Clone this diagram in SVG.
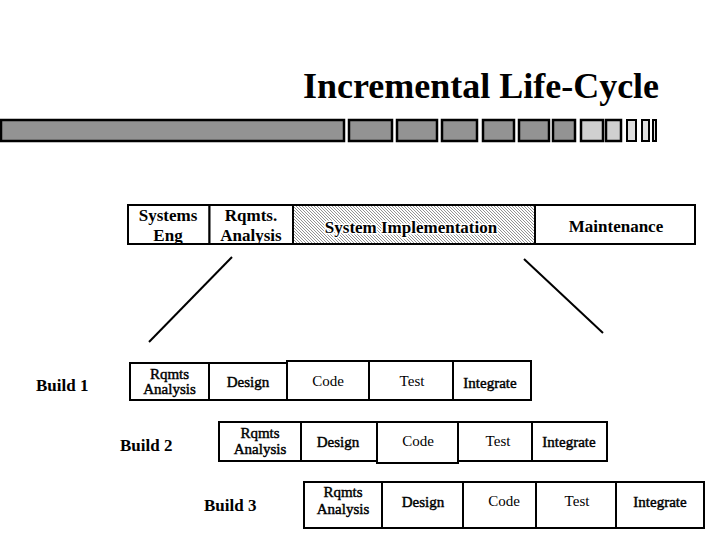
<svg xmlns="http://www.w3.org/2000/svg" width="720" height="540" viewBox="0 0 720 540">
<style>
.title{font-family:"Liberation Serif",serif;font-weight:bold;font-size:36px;fill:#000}
.hd{font-family:"Liberation Serif",serif;font-weight:bold;font-size:17px;fill:#000;text-anchor:middle}
.bl{font-family:"Liberation Serif",serif;font-weight:bold;font-size:17px;fill:#000}
.cb{font-family:"Liberation Serif",serif;font-size:15px;fill:#000;stroke:#000;stroke-width:0.45;text-anchor:middle}
.cr{font-family:"Liberation Serif",serif;font-size:15px;fill:#000;text-anchor:middle}
.cell{fill:#fff;stroke:#000;stroke-width:2}
.bar{fill:#939393;stroke:#000;stroke-width:2.5}
.barl{fill:#d0d0d0;stroke:#000;stroke-width:2.5}
.barx{fill:#dedede;stroke:#000;stroke-width:2}
.conn{stroke:#000;stroke-width:2;fill:none}
</style>
<defs>
<pattern id="hatch" patternUnits="userSpaceOnUse" width="3" height="3">
<rect width="3" height="3" fill="#fff"/>
<path d="M-1,-1 L4,4 M-1,2 L1,4 M2,-1 L4,1" stroke="#666" stroke-width="0.7"/>
</pattern>
</defs>
<rect width="720" height="540" fill="#fff"/>
<g id="title">
<text class="title" x="481" y="98" text-anchor="middle">Incremental Life-Cycle</text>
</g>
<g id="progress-bar">
<rect class="bar" x="1" y="120" width="343" height="21"/>
<rect class="bar" x="349" y="120" width="43" height="21"/>
<rect class="bar" x="397" y="120" width="40" height="21"/>
<rect class="bar" x="442" y="120" width="35" height="21"/>
<rect class="bar" x="483" y="120" width="31" height="21"/>
<rect class="bar" x="519" y="120" width="30" height="21"/>
<rect class="bar" x="553" y="120" width="22" height="21"/>
<rect class="barl" x="581" y="120" width="22" height="21"/>
<rect class="barl" x="606" y="120" width="15" height="21"/>
<rect class="barx" x="627" y="120" width="9" height="21"/>
<rect class="barx" x="642" y="120" width="7" height="21"/>
<rect class="barx" x="653" y="120" width="3" height="21"/>
</g>
<g id="phase-systems-eng">
<rect class="cell" x="128" y="205" width="81.5" height="39"/>
<text class="hd" x="168" y="221">Systems</text>
<text class="hd" x="168" y="241">Eng</text>
</g>
<g id="phase-rqmts-analysis">
<rect class="cell" x="209.5" y="205" width="83.5" height="39" stroke-width="2.5"/>
<text class="hd" x="251" y="221">Rqmts.</text>
<text class="hd" x="251" y="241">Analysis</text>
</g>
<g id="phase-system-implementation">
<rect x="293" y="205" width="242" height="39" fill="url(#hatch)" stroke="#000" stroke-width="2"/>
<text class="hd" x="411" y="233" stroke="#fff" stroke-width="3" paint-order="stroke" stroke-linejoin="round">System Implementation</text>
</g>
<g id="phase-maintenance">
<rect class="cell" x="535" y="205" width="160" height="39"/>
<text class="hd" x="616" y="232">Maintenance</text>
</g>
<g id="connectors">
<line class="conn" x1="232" y1="257" x2="149" y2="342"/>
<line class="conn" x1="524" y1="259" x2="603" y2="333"/>
</g>
<g id="build1">
<text class="bl" x="36" y="391">Build 1</text>
<g id="b1-rqmts"><rect class="cell" x="130" y="363" width="79" height="37"/><text class="cb" x="169.5" y="379">Rqmts</text><text class="cb" x="169.5" y="394">Analysis</text></g>
<g id="b1-design"><rect class="cell" x="209" y="363" width="78" height="37"/><text class="cb" x="248" y="387">Design</text></g>
<g id="b1-code"><rect class="cell" x="287" y="361" width="82" height="39"/><text class="cr" x="328" y="386">Code</text></g>
<g id="b1-test"><rect class="cell" x="369" y="361" width="84" height="39"/><text class="cr" x="412" y="386">Test</text></g>
<g id="b1-integrate"><rect class="cell" x="453" y="361" width="78" height="39"/><text class="cb" x="490" y="388">Integrate</text></g>
</g>
<g id="build2">
<text class="bl" x="120" y="451">Build 2</text>
<g id="b2-rqmts"><rect class="cell" x="219" y="422" width="82" height="39"/><text class="cb" x="260" y="438">Rqmts</text><text class="cb" x="260" y="454">Analysis</text></g>
<g id="b2-design"><rect class="cell" x="301" y="422" width="76" height="39"/><text class="cb" x="338" y="447">Design</text></g>
<g id="b2-code"><rect class="cell" x="377" y="422" width="81" height="41"/><text class="cr" x="418" y="446">Code</text></g>
<g id="b2-test"><rect class="cell" x="458" y="422" width="74" height="39"/><text class="cr" x="498" y="446">Test</text></g>
<g id="b2-integrate"><rect class="cell" x="532" y="422" width="75" height="39"/><text class="cb" x="569" y="447">Integrate</text></g>
</g>
<g id="build3">
<text class="bl" x="204" y="511">Build 3</text>
<g id="b3-rqmts"><rect class="cell" x="304" y="482" width="78" height="46"/><text class="cb" x="343" y="497">Rqmts</text><text class="cb" x="343" y="514">Analysis</text></g>
<g id="b3-design"><rect class="cell" x="382" y="482" width="81" height="46"/><text class="cb" x="423" y="507">Design</text></g>
<g id="b3-code"><rect class="cell" x="463" y="482" width="73" height="46"/><text class="cr" x="504" y="506">Code</text></g>
<g id="b3-test"><rect class="cell" x="536" y="482" width="80" height="46"/><text class="cr" x="577" y="506">Test</text></g>
<g id="b3-integrate"><rect class="cell" x="616" y="482" width="88" height="46"/><text class="cb" x="660" y="507">Integrate</text></g>
</g>
</svg>
